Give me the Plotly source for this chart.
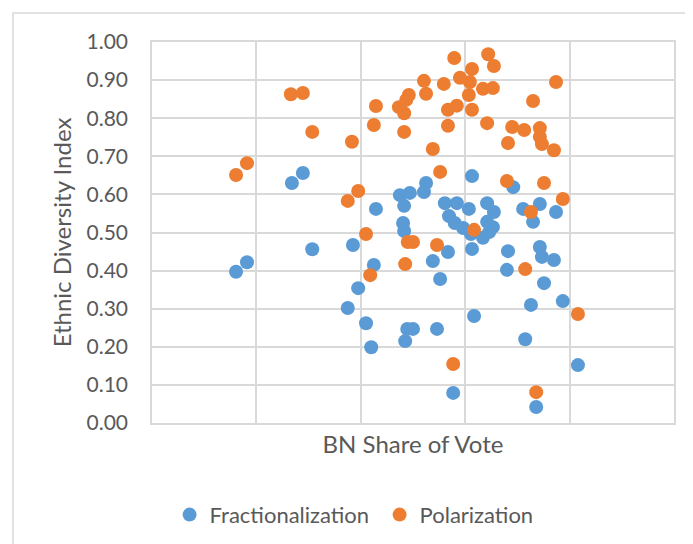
import plotly.graph_objects as go

# BN share of vote (%)
frac_x = [16.1, 18.2, 26.8, 28.9, 30.7, 38.5, 37.5, 39.5, 41.0, 42.0, 42.5, 42.9,
          47.5, 49.4, 48.3, 48.1, 48.3, 48.5, 48.9, 50.0, 52.1, 52.5, 53.8, 54.6,
          55.2, 56.1, 56.7, 56.9, 57.7, 58.4, 58.0, 59.6, 60.7, 61.3, 61.3, 61.7,
          61.1, 63.4, 64.2, 64.2, 65.5, 65.3, 64.6, 68.2, 68.0, 69.2, 71.1, 71.5,
          72.6, 73.0, 73.6, 74.3, 74.3, 74.7, 75.1, 77.0, 77.4, 78.7, 81.6]
frac_y = [0.397, 0.422, 0.630, 0.656, 0.456, 0.467, 0.302, 0.354, 0.262, 0.199, 0.415, 0.562,
          0.598, 0.604, 0.570, 0.525, 0.504, 0.215, 0.247, 0.247, 0.606, 0.630, 0.425, 0.247,
          0.378, 0.577, 0.449, 0.543, 0.079, 0.577, 0.525, 0.512, 0.562, 0.648, 0.457, 0.281,
          0.496, 0.486, 0.577, 0.528, 0.554, 0.514, 0.501, 0.451, 0.402, 0.619, 0.562, 0.220,
          0.310, 0.528, 0.042, 0.575, 0.462, 0.436, 0.367, 0.428, 0.554, 0.320, 0.152]

pol_x = [16.1, 18.2, 26.6, 28.9, 30.7, 38.3, 39.5, 37.5, 41.0, 41.8, 42.9, 42.5,
         49.2, 47.3, 48.7, 48.3, 48.3, 48.5, 49.0, 50.0, 52.1, 52.5, 53.8, 54.6,
         55.2, 55.9, 56.7, 56.7, 57.9, 57.7, 58.4, 59.0, 60.9, 61.3, 60.7, 61.3,
         61.7, 63.4, 64.2, 64.4, 65.3, 65.5, 68.0, 68.2, 69.0, 71.3, 71.5, 72.6,
         73.0, 73.6, 74.3, 74.3, 74.7, 75.1, 77.0, 77.4, 78.7, 81.6]
pol_y = [0.651, 0.682, 0.863, 0.866, 0.764, 0.738, 0.609, 0.583, 0.496, 0.388, 0.832, 0.782,
         0.861, 0.829, 0.848, 0.813, 0.764, 0.417, 0.475, 0.475, 0.898, 0.864, 0.719, 0.467,
         0.659, 0.890, 0.822, 0.780, 0.958, 0.155, 0.833, 0.906, 0.895, 0.929, 0.861, 0.822,
         0.507, 0.877, 0.787, 0.968, 0.879, 0.937, 0.635, 0.735, 0.777, 0.769, 0.404, 0.554,
         0.845, 0.081, 0.774, 0.751, 0.732, 0.630, 0.716, 0.895, 0.588, 0.286]

FONT = "Lato"
TXT = "#595959"
GRID = "#D9D9D9"

fig = go.Figure()
fig.add_trace(go.Scatter(x=frac_x, y=frac_y, mode="markers", name="Fractionalization",
                         marker=dict(color="#5B9BD5", size=14, line=dict(width=0))))
fig.add_trace(go.Scatter(x=pol_x, y=pol_y, mode="markers", name="Polarization",
                         marker=dict(color="#ED7D31", size=14, line=dict(width=0))))

fig.update_layout(
    width=685, height=536,
    margin=dict(l=144, r=19, t=34, b=121, autoexpand=False),
    paper_bgcolor="white", plot_bgcolor="white",
    font=dict(family=FONT, color=TXT, size=21),
    showlegend=True,
    legend=dict(orientation="h", x=0.436, xanchor="center", y=-0.241, yanchor="middle",
                font=dict(size=22, color=TXT),
                entrywidth=165, entrywidthmode="pixels"),
    xaxis=dict(range=[0, 100], dtick=20, showticklabels=False, showgrid=True,
               gridcolor=GRID, gridwidth=1.5, zeroline=False, showline=True,
               linecolor=GRID, linewidth=1.5, mirror=True, ticks="",
               title=dict(text="BN Share of Vote", font=dict(size=24, color=TXT), standoff=12)),
    yaxis=dict(range=[0, 1], dtick=0.1, tickformat=".2f", showgrid=True,
               gridcolor=GRID, gridwidth=1.5, zeroline=False, showline=True,
               linecolor=GRID, linewidth=1.5, mirror=True, ticks="",
               ticklabelstandoff=18, tickfont=dict(size=21, color=TXT),
               title=dict(text="Ethnic Diversity Index", font=dict(size=24, color=TXT), standoff=8)),
    shapes=[dict(type="rect", xref="paper", yref="paper",
                 x0=(13 - 152) / 522, x1=(720 - 152) / 522,
                 y0=(423 - 580) / 381, y1=(423 - 13) / 381,
                 line=dict(color=GRID, width=1.5), fillcolor="rgba(0,0,0,0)", layer="below")],
)

fig.write_html("out.html")
